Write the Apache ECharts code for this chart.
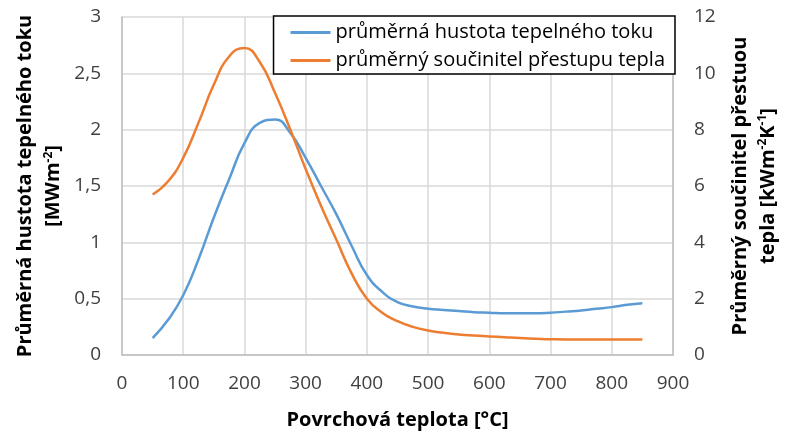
<!DOCTYPE html>
<html><head><meta charset="utf-8">
<script src="https://cdn.jsdelivr.net/npm/echarts@6/dist/echarts.min.js"></script>
<style>html,body{margin:0;padding:0;background:#fff}#c{width:786px;height:437px}</style>
</head><body><div id="c"></div>
<script>
const temps = [50,75,100,125,150,175,200,225,250,275,300,325,350,375,400,425,450,475,500,525,550,575,600,625,650,675,700,725,750,775,800,825,850];
const heatFlux = [0.15,0.31,0.53,0.85,1.22,1.56,1.88,2.06,2.09,1.97,1.75,1.50,1.25,0.97,0.71,0.56,0.47,0.43,0.41,0.40,0.39,0.38,0.375,0.37,0.37,0.37,0.375,0.385,0.395,0.41,0.425,0.445,0.46];
const htc = [5.7,6.16,7.0,8.25,9.6,10.6,10.9,10.4,9.3,8.0,6.6,5.3,4.1,2.9,2.0,1.5,1.2,1.0,0.87,0.79,0.73,0.69,0.66,0.63,0.60,0.58,0.56,0.55,0.55,0.55,0.55,0.55,0.55];
const seriesNames = ['průměrná hustota tepelného toku','průměrný součinitel přestupu tepla'];

const F = 'Open Sans, Liberation Sans, sans-serif';
const chart = echarts.init(document.getElementById('c'));
const sup = {fontSize: 12, fontWeight: 'bold', fontFamily: F, color: '#000', padding: [0,0,10,0]};
const nm = {fontSize: 20, fontWeight: 'bold', fontFamily: F, color: '#000', lineHeight: 28};
chart.setOption({
  animation: false,
  grid: {left: 122, right: 113, top: 17, bottom: 82},
  legend: {
    right: 111, top: 16, orient: 'vertical', itemGap: 3,
    itemWidth: 40, itemHeight: 3,
    backgroundColor: '#fff', borderColor: '#000', borderWidth: 1.5, borderRadius: 0,
    padding: [4, 10, 1, 17],
    icon: 'rect',
    textStyle: {fontSize: 20, fontFamily: F, color: '#000', lineHeight: 25},
    data: seriesNames
  },
  xAxis: {
    type: 'value', min: 0, max: 900, interval: 100,
    name: 'Povrchová teplota [°C]', nameLocation: 'middle', nameGap: 55,
    nameTextStyle: {fontSize: 20, fontWeight: 'bold', fontFamily: F, color: '#000'},
    axisLine: {show: true, lineStyle: {color: '#bfbfbf', width: 1.5}},
    axisTick: {show: false},
    axisLabel: {fontSize: 19, fontFamily: F, color: '#404040', margin: 19},
    splitLine: {show: true, lineStyle: {color: '#d9d9d9', width: 1.5}}
  },
  yAxis: [{
    type: 'value', min: 0, max: 3, interval: 0.5, position: 'left',
    name: '{n|Průměrná hustota tepelného toku}\n{n|[MWm}{s|-2}{n|]}',
    nameLocation: 'middle', nameRotate: 90, nameGap: 50,
    nameTextStyle: {rich: {n: nm, s: sup}, align: 'center'},
    axisLine: {show: true, lineStyle: {color: '#bfbfbf', width: 1.5}},
    axisTick: {show: false},
    axisLabel: {fontSize: 19, fontFamily: F, color: '#404040', margin: 21,
      formatter: v => String(v).replace('.', ',')},
    splitLine: {show: true, lineStyle: {color: '#d9d9d9', width: 1.5}}
  }, {
    type: 'value', min: 0, max: 12, interval: 2, position: 'right',
    name: '{n|Průměrný součinitel přestuou}\n{n|tepla [kWm}{s|-2}{n|K}{s|-1}{n|]}',
    nameLocation: 'middle', nameRotate: 90, nameGap: 53,
    nameTextStyle: {rich: {n: nm, s: sup}, align: 'center'},
    axisLine: {show: true, lineStyle: {color: '#bfbfbf', width: 1.5}},
    axisTick: {show: false},
    axisLabel: {fontSize: 19, fontFamily: F, color: '#404040', margin: 21},
    splitLine: {show: false}
  }],
  series: [{
    name: seriesNames[0], type: 'line', yAxisIndex: 0, smooth: 0.5, symbol: 'none',
    lineStyle: {color: '#5b9bd5', width: 2.5}, itemStyle: {color: '#5b9bd5'},
    data: temps.map((t, i) => [t, heatFlux[i]])
  }, {
    name: seriesNames[1], type: 'line', yAxisIndex: 1, smooth: 0.5, symbol: 'none',
    lineStyle: {color: '#ed7d31', width: 2.5}, itemStyle: {color: '#ed7d31'},
    data: temps.map((t, i) => [t, htc[i]])
  }]
});
</script></body></html>
